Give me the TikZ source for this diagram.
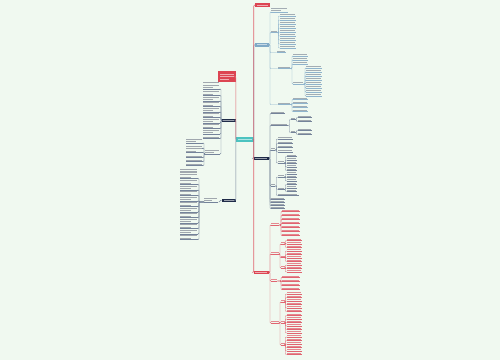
\documentclass[tikz,border=0pt]{standalone}
\usetikzlibrary{calc}
\definecolor{bg}{HTML}{F0F9F0}
\definecolor{tealbox}{HTML}{4CC3C0}
\definecolor{redbox}{HTML}{DC4552}
\definecolor{bluebox}{HTML}{7FA9C6}
\definecolor{navybox}{HTML}{1F2B48}
\definecolor{bltext}{HTML}{A3ADB4}
\definecolor{blline}{HTML}{8FB4CD}
\definecolor{nvtext}{HTML}{A0A7AE}
\definecolor{nvline}{HTML}{74839A}
\definecolor{rdtext}{HTML}{E58990}
\definecolor{rdline}{HTML}{E06470}
\tikzset{
  boxnode/.style={inner sep=0pt, draw=none},
  conn/.style={line width=0.45pt, rounded corners=0.8pt},
  spine/.style={line width=0.6pt, rounded corners=1pt},
}
% leaf: name, x, ybottom, width, lines, colour prefix
\newcommand\leafnode[6]{%
  \node[inner sep=0pt, minimum width=#4pt, minimum height=2.6*#5pt, anchor=south west] (#1) at (#2,#3) {};
  \foreach \k in {1,...,#5}{%
    \pgfmathsetmacro\ww{(\k==1 && #5>1) ? 0.6*#4 : 0.95*#4}%
    \fill[#6text] (#2,#3-0.8-\k*2.6+2.6) rectangle ++(\ww,-1.1);
  }
  \draw[#6line, line width=0.4pt] (#1.south west) -- (#1.south east);
}
% connector: colour, parent anchor, bracket x, child anchor
\newcommand\linkto[4]{\draw[conn,#1] (#2) -- (#2 -| #3,0) |- (#4);}
% right list: parent anchor, bracket x, leaf x, width, colour prefix, y/lines list, name prefix
\newcommand\rlist[7]{\foreach \yy/\nn [count=\ii] in {#6}{%
  \leafnode{#7\ii}{#3}{\yy}{#4}{\nn}{#5}\linkto{#5line}{#1}{#2}{#7\ii.south west}}}
\newcommand\llist[7]{\foreach \yy/\nn [count=\ii] in {#6}{%
  \leafnode{#7\ii}{#3}{\yy}{#4}{\nn}{#5}\linkto{#5line}{#1}{#2}{#7\ii.south east}}}
% coloured box: name, cx, cy, w, h, fill
\newcommand\mybox[6]{%
  \node[boxnode, fill=#6, minimum width=#4pt, minimum height=#5pt] (#1) at (#2,#3) {};
  \fill[white!55!#6] ($(#1.west)+(2,0.45)$) rectangle ($(#1.east)+(-2,-0.45)$);
}
\begin{document}
\begin{tikzpicture}[x=1pt,y=-1pt]
\fill[bg] (0,0) rectangle (500,360);
\useasboundingbox (0,0) rectangle (500,360);

% main boxes
\mybox{C}{244.75}{139}{17.5}{5}{tealbox}
\mybox{T}{262.5}{5}{15}{4}{redbox}
\mybox{B}{261.75}{44.75}{13.5}{3.5}{bluebox}
\mybox{N}{261.25}{158.25}{15.5}{3.5}{navybox}
\mybox{R}{261.25}{272.25}{15.5}{3.5}{redbox}
\mybox{L1}{228.5}{120.25}{14}{3.5}{navybox}
\mybox{L2}{228.75}{200.25}{13.5}{3.5}{navybox}
\node[boxnode, fill=redbox, minimum width=17.5pt, minimum height=11pt] (L0) at (226.75,76.5) {};
\fill[white!55!redbox] (220,73.5) rectangle (233.5,74.4);
\fill[white!55!redbox] (220,76.4) rectangle (233.5,77.3);
\fill[white!55!redbox] (220,79.3) rectangle (229,80.2);

% spine connectors
\draw[spine,bluebox] (C.east) |- (B.west);
\draw[spine,nvline] (C.east) |- (N.west);
\draw[spine,nvline] (C.west) |- (L1.east);
\draw[spine,nvline] (C.west) |- (L2.east);
\draw[spine,rdline] (C.west) |- (L0.east);
\draw[spine,rdline] (C.east) |- (T.west);
\draw[spine,rdline] (C.east) |- (R.west);

% ---- blue branch
\leafnode{B1}{271}{12}{17}{2}{bl}
\leafnode{B2}{271}{32.5}{6.5}{1}{bl}
\leafnode{B3}{276.5}{52.5}{9}{1}{bl}
\leafnode{B4}{277.5}{68.5}{13}{1}{bl}
\leafnode{B5}{277.5}{104.5}{13}{1}{bl}
\foreach \c in {B1,B2,B3,B4,B5}{\linkto{blline}{B.east}{270}{\c.south west}}
\rlist{B2.south east}{278.5}{279.5}{16}{bl}{16/1,20/1,24/1,28/1,32/1,36/1,40/1,44/1,48/1}{B2c}
\rlist{B4.south east}{292}{293}{15}{bl}{56/1,60/1,64/1}{B4c}
\leafnode{B4d}{293}{84}{11}{1}{bl}
\linkto{blline}{B4.south east}{292}{B4d.south west}
\rlist{B4d.south east}{305}{306}{16}{bl}{68/1,72/1,76/1,80/1,84/1,88/1,92/1,96/1}{B4e}
\rlist{B5.south east}{292}{293}{15}{bl}{99.5/1,103.5/1,107.5/1,111.5/1}{B5c}

% ---- navy branch (right)
\leafnode{N1}{271}{113.5}{14}{1}{nv}
\leafnode{N2}{271}{125.5}{17}{1}{nv}
\leafnode{N3}{271}{150}{4}{1}{nv}
\leafnode{N4}{271}{186}{4}{1}{nv}
\foreach \c in {N1,N2,N3,N4}{\linkto{nvline}{N.east}{270}{\c.south west}}
\rlist{N.east}{270}{271}{14}{nv}{199.5/1,202.5/1,205.5/1,208.5/1}{N5c}
\leafnode{N2a}{290.5}{119.5}{5}{1}{nv}
\leafnode{N2b}{290.5}{132.5}{5}{1}{nv}
\linkto{nvline}{N2.south east}{289.5}{N2a.south west}
\linkto{nvline}{N2.south east}{289.5}{N2b.south west}
\rlist{N2a.south east}{296.5}{297.5}{14}{nv}{117.5/1,121.5/1}{N2ac}
\rlist{N2b.south east}{296.5}{297.5}{14}{nv}{130.5/1,134.5/1}{N2bc}
\rlist{N3.south east}{276.5}{277.5}{15}{nv}{139/1,143.5/1,147.5/1,152/1}{N3c}
\leafnode{N3e}{277.5}{163}{7}{1}{nv}
\linkto{nvline}{N3.south east}{276.5}{N3e.south west}
\rlist{N3e.south east}{285.5}{286.5}{10}{nv}{156.5/1,160/1,163.5/1,167/1,170.5/1}{N3f}
\leafnode{N4a}{277.5}{177}{7}{1}{nv}
\leafnode{N4b}{277.5}{189.5}{7}{1}{nv}
\leafnode{N4c}{277.5}{195.5}{21}{1}{nv}
\foreach \c in {N4a,N4b,N4c}{\linkto{nvline}{N4.south east}{276.5}{\c.south west}}
\rlist{N4a.south east}{285.5}{286.5}{10}{nv}{174/1,177.5/1,181/1}{N4ac}
\rlist{N4b.south east}{285.5}{286.5}{10}{nv}{184.5/1,188/1,191.5/1}{N4bc}

% ---- red branch (right)
\leafnode{R1}{271}{225}{8}{1}{rd}
\leafnode{R2}{271}{254}{8}{1}{rd}
\leafnode{R3}{271}{281}{6}{1}{rd}
\leafnode{R4}{271}{323}{8}{1}{rd}
\foreach \c in {R1,R2,R3,R4}{\linkto{rdline}{R.east}{270}{\c.south west}}
\rlist{R1.south east}{281}{282}{18}{rd}{211.5/1,215.5/1,219.5/1,223.5/1,227.5/1,231.5/1,235.5/1}{R1c}
\leafnode{R2a}{281}{244}{4}{1}{rd}
\leafnode{R2b}{281}{257.5}{4}{1}{rd}
\leafnode{R2c}{281}{268}{4}{1}{rd}
\foreach \c in {R2a,R2b,R2c}{\linkto{rdline}{R2.south east}{280}{\c.south west}}
\rlist{R2a.south east}{285.5}{286.5}{15}{rd}{240.5/1,244/1,247.5/1}{R2ac}
\rlist{R2b.south east}{285.5}{286.5}{15}{rd}{251/1,254.5/1,258/1,261.5/1}{R2bc}
\rlist{R2c.south east}{285.5}{286.5}{15}{rd}{265/1,268.5/1,272/1}{R2cc}
\rlist{R3.south east}{281}{282}{18}{rd}{277.5/1,281.5/1,285.5/1,289.5/1}{R3c}
\leafnode{R4a}{281}{302}{4}{1}{rd}
\leafnode{R4b}{281}{323}{4}{1}{rd}
\leafnode{R4c}{281}{345}{4}{1}{rd}
\foreach \c in {R4a,R4b,R4c}{\linkto{rdline}{R4.south east}{280}{\c.south west}}
\rlist{R4a.south east}{285.5}{286.5}{15}{rd}{294/1,297.5/1,301/1,304.5/1,308/1,311.5/1}{R4ac}
\rlist{R4b.south east}{285.5}{286.5}{15}{rd}{315.5/1,319/1,322.5/1,326/1,329.5/1,333/1}{R4bc}
\rlist{R4c.south east}{285.5}{286.5}{15}{rd}{337/1,340.5/1,344/1,347.5/1,351/1,354.5/1}{R4cc}

% ---- left navy branch 1
\llist{L1.west}{221}{203}{17}{nv}{89/3,95.5/2,101/2,106.5/2,112/2,117.5/2,123/2,128.5/2,134/2,138.5/1}{L1c}
\leafnode{L1s}{205}{154}{15}{2}{nv}
\linkto{nvline}{L1.west}{221}{L1s.south east}
\llist{L1s.south west}{204}{186}{17}{nv}{143/2,148/1,152.5/2,157.5/1,161.5/1,165.5/1}{L1sc}

% ---- left navy branch 2
\leafnode{L2s}{204}{202}{14}{2}{nv}
\linkto{nvline}{L2.west}{220}{L2s.south east}
\llist{L2s.south west}{199}{180}{18}{nv}{178.5/4,184.5/2,190/2,195.5/2,201/2,206.5/2,212/2,217.5/2,223/2,228.5/2,234/2,239.5/2}{L2c}
\end{tikzpicture}
\end{document}
